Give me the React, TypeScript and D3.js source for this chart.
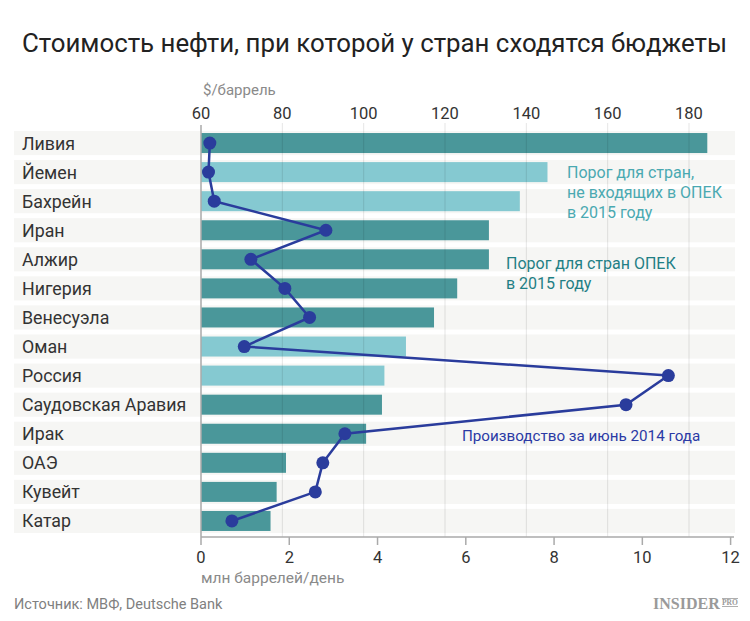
import React from "react";
import * as d3 from "d3";

const countries = ["Ливия", "Йемен", "Бахрейн", "Иран", "Алжир", "Нигерия", "Венесуэла", "Оман", "Россия", "Саудовская Аравия", "Ирак", "ОАЭ", "Кувейт", "Катар"];
const breakevenPrice = [184.5, 145.2, 138.4, 130.8, 130.8, 123.0, 117.3, 110.4, 105.1, 104.5, 100.6, 80.9, 78.6, 77.1];
const production2014 = [0.2, 0.17, 0.3, 2.83, 1.13, 1.9, 2.46, 0.98, 10.59, 9.63, 3.26, 2.76, 2.59, 0.7];
const nonOpec = ["Йемен", "Бахрейн", "Оман", "Россия"];
const priceTicks = [60, 80, 100, 120, 140, 160, 180];
const prodTicks = [0, 2, 4, 6, 8, 10, 12];

const FONT = "Roboto, 'Open Sans', sans-serif";
const OPEC_COLOR = "#4a979a";
const NONOPEC_COLOR = "#85c9d1";
const LINE_COLOR = "#2a3c9c";

export default function App() {
  const W = 750, H = 621;
  const xPrice = d3.scaleLinear().domain([60, 180]).range([201, 689]);
  const xProd = d3.scaleLinear().domain([0, 12]).range([201, 730.6]);
  const y = d3.scaleBand<string>().domain(countries).range([128.5, 535.5]).paddingInner(0.17).paddingOuter(0.085);
  const bw = y.bandwidth();
  const barH = 20;
  const axisY = 537;

  const pts = countries.map((c, i) => [xProd(production2014[i]), (y(c) as number) + bw / 2] as [number, number]);
  const lineGen = d3.line();

  return (
    <svg width={W} height={H} style={{ position: "absolute", left: 0, top: 0, background: "#fff" }} fontFamily={FONT}>
      <text x={22} y={52} fontSize={26} fill="#222" textLength={705} lengthAdjust="spacingAndGlyphs">
        Стоимость нефти, при которой у стран сходятся бюджеты
      </text>

      {/* row backgrounds */}
      {countries.map((c) => (
        <rect key={"bg" + c} x={14} y={y(c)} width={721} height={bw} fill="#f6f6f4" />
      ))}

      {/* bars */}
      {countries.map((c, i) => (
        <rect
          key={"bar" + c}
          x={xPrice(60)}
          y={(y(c) as number) + (bw - barH) / 2}
          width={xPrice(breakevenPrice[i]) - xPrice(60)}
          height={barH}
          fill={nonOpec.includes(c) ? NONOPEC_COLOR : OPEC_COLOR}
        />
      ))}

      {/* gridlines */}
      {priceTicks.slice(1).map((t) => (
        <line key={"g" + t} x1={xPrice(t)} x2={xPrice(t)} y1={123} y2={axisY} stroke="#000" strokeOpacity={0.1} strokeWidth={1} />
      ))}
      <line x1={201} x2={201} y1={125} y2={axisY} stroke="#aaa" strokeWidth={1.5} />

      {/* top axis labels */}
      <text x={203} y={95} fontSize={15} fill="#8a8a8a">$/баррель</text>
      {priceTicks.map((t) => (
        <text key={"pt" + t} x={xPrice(t)} y={119} fontSize={16.5} fill="#333" textAnchor="middle">{t}</text>
      ))}

      {/* bottom axis */}
      <line x1={201} x2={734} y1={axisY} y2={axisY} stroke="#aaa" strokeWidth={1.5} />
      {prodTicks.map((t) => (
        <g key={"bt" + t}>
          <line x1={xProd(t)} x2={xProd(t)} y1={axisY} y2={545} stroke="#aaa" strokeWidth={1.5} />
          <text x={xProd(t)} y={563} fontSize={16.5} fill="#333" textAnchor="middle">{t}</text>
        </g>
      ))}
      <text x={201} y={583} fontSize={15.5} fill="#8a8a8a">млн баррелей/день</text>

      {/* country labels */}
      {countries.map((c) => (
        <text key={"lbl" + c} x={22} y={(y(c) as number) + bw / 2 + 6.5} fontSize={17.8} fill="#333">{c}</text>
      ))}

      {/* production line */}
      <path d={lineGen(pts) || ""} fill="none" stroke={LINE_COLOR} strokeWidth={2.5} />
      {pts.map((p, i) => (
        <circle key={"pt" + i} cx={p[0]} cy={p[1]} r={6.5} fill={LINE_COLOR} />
      ))}

      {/* annotations */}
      <g fontSize={16} fill="#4aa9b1">
        <text x={567} y={178}>Порог для стран,</text>
        <text x={567} y={198}>не входящих в ОПЕК</text>
        <text x={567} y={218}>в 2015 году</text>
      </g>
      <g fontSize={16} fill="#1f7f85">
        <text x={506} y={269}>Порог для стран ОПЕК</text>
        <text x={506} y={289}>в 2015 году</text>
      </g>
      <text x={462} y={441} fontSize={15.2} fill="#2b3aa5">Производство за июнь 2014 года</text>

      {/* footer */}
      <text x={14} y={609} fontSize={14.5} fill="#808080">Источник: МВФ, Deutsche Bank</text>
      <text x={653} y={609} fontSize={16} fontWeight="bold" fill="#9a9a9a" fontFamily="'Liberation Serif', 'DejaVu Serif', serif">INSIDER</text>
      <text x={722} y={604.5} fontSize={7.5} fontWeight="bold" fill="#9a9a9a" fontFamily="'Liberation Serif', serif">PRO</text>
      <line x1={722} x2={738} y1={598.5} y2={598.5} stroke="#9a9a9a" strokeWidth={0.8} />
      <line x1={722} x2={738} y1={606.5} y2={606.5} stroke="#9a9a9a" strokeWidth={0.8} />
    </svg>
  );
}
